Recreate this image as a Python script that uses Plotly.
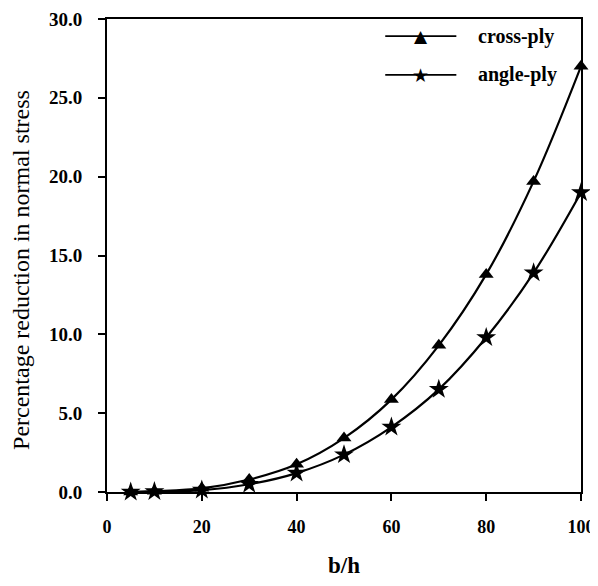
import plotly.graph_objects as go

b_h = [5, 10, 20, 30, 40, 50, 60, 70, 80, 90, 100]
cross_ply = [0.0, 0.05, 0.23, 0.79, 1.76, 3.42, 5.86, 9.3, 13.8, 19.7, 27.0]
angle_ply = [0.0, 0.03, 0.12, 0.49, 1.2, 2.37, 4.12, 6.51, 9.8, 13.9, 19.0]
series_names = ["cross-ply", "angle-ply"]
x_ticks = [0, 20, 40, 60, 80, 100]
y_ticks = [0, 5, 10, 15, 20, 25, 30]

serif = "Liberation Serif, Times New Roman, serif"

fig = go.Figure()
fig.add_trace(go.Scatter(
    x=b_h, y=cross_ply, name=series_names[0], mode="lines+markers",
    line=dict(color="black", width=2.2, shape="spline"),
    marker=dict(symbol="triangle-up", size=13, color="black"),
    showlegend=False, cliponaxis=False,
))
fig.add_trace(go.Scatter(
    x=b_h, y=angle_ply, name=series_names[1], mode="lines+markers",
    line=dict(color="black", width=2.2, shape="spline"),
    marker=dict(symbol="star", size=15, color="black"),
    showlegend=False, cliponaxis=False,
))

# manual legend (line sample + glyph + label)
legend_rows = [(0.964, "▲", 17), (0.882, "★", 19)]
for (yy, glyph, gsize), name in zip(legend_rows, series_names):
    fig.add_shape(type="line", xref="paper", yref="paper",
                  x0=0.587, x1=0.737, y0=yy, y1=yy,
                  line=dict(color="black", width=1.8))
    fig.add_annotation(xref="paper", yref="paper", x=0.662, y=yy,
                       text=glyph, showarrow=False,
                       font=dict(family="DejaVu Sans", size=gsize, color="black"),
                       xanchor="center", yanchor="middle")
    fig.add_annotation(xref="paper", yref="paper", x=0.779, y=yy,
                       text=f"<b>{name}</b>", showarrow=False,
                       font=dict(family=serif, size=20, color="black"),
                       xanchor="left", yanchor="middle")

# y-axis title as rotated text
fig.add_annotation(xref="paper", yref="paper", x=-0.183, y=0.47,
                   text="Percentage reduction in normal stress", textangle=-90,
                   showarrow=False, font=dict(family=serif, size=24, color="black"),
                   xanchor="center", yanchor="middle")

# page body has an 8px margin, so the figure is sized to fit the window
fig.update_layout(
    width=590, height=570,
    margin=dict(l=99, r=17, t=11, b=86),
    paper_bgcolor="white", plot_bgcolor="white",
    font=dict(family=serif, size=18, color="black"),
    showlegend=False,
    xaxis=dict(
        range=[0, 100], tickvals=x_ticks, ticktext=[f"<b>{v}</b>" for v in x_ticks],
        showgrid=False, zeroline=False, showline=True, linecolor="black", linewidth=2,
        mirror=True, ticks="outside", ticklen=7, tickcolor="black", tickwidth=1.5,
        tickfont=dict(size=18), ticklabelstandoff=10, automargin=False,
        title=dict(text="<b>b/h</b>", font=dict(size=23), standoff=28),
    ),
    yaxis=dict(
        range=[0, 30], tickvals=y_ticks, ticktext=[f"<b>{v:.1f}</b>" for v in y_ticks],
        showgrid=False, zeroline=False, showline=True, linecolor="black", linewidth=2,
        mirror=True, ticks="outside", ticklen=7, tickcolor="black", tickwidth=1.5,
        tickfont=dict(size=19), ticklabelstandoff=12, automargin=False,
    ),
)

fig.write_html("out.html")
